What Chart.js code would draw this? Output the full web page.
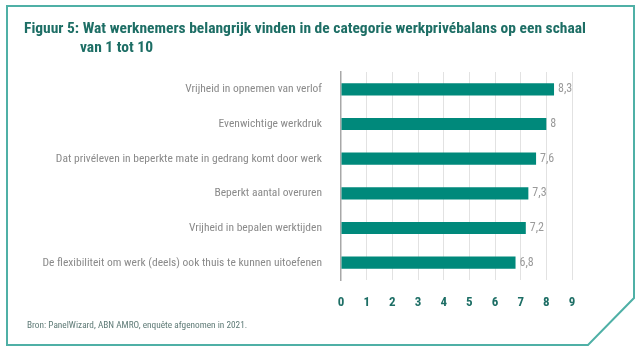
<!DOCTYPE html>
<html>
<head>
<meta charset="utf-8">
<script src="https://cdn.jsdelivr.net/npm/chart.js@4/dist/chart.umd.min.js"></script>
<style>
  html, body { margin:0; padding:0; background:#fff; }
  #wrap { position:relative; width:640px; height:352px; overflow:hidden; }
  canvas { position:absolute; left:0; top:0; }
  #title { position:absolute; left:24px; top:19px; white-space:nowrap;
    font-family:"Roboto Condensed",Roboto,sans-serif;
    font-weight:bold; font-size:15.5px; line-height:19px; color:#1d6e65; }
  #title .l2 { padding-left:56px; }
  #source { position:absolute; left:27px; top:319px; white-space:nowrap;
    font-family:"Roboto Condensed",Roboto,sans-serif;
    font-size:9.3px; color:#5e7a76; }
</style>
</head>
<body>
<div id="wrap">
  <canvas id="c" width="640" height="352"></canvas>
  <div id="title">Figuur 5: Wat werknemers belangrijk vinden in de categorie werkprivébalans op een schaal<br><span class="l2">van 1 tot 10</span></div>
  <div id="source">Bron: PanelWizard, ABN AMRO, enquête afgenomen in 2021.</div>
</div>
<script>
const categories = [
  "Vrijheid in opnemen van verlof",
  "Evenwichtige werkdruk",
  "Dat privéleven in beperkte mate in gedrang komt door werk",
  "Beperkt aantal overuren",
  "Vrijheid in bepalen werktijden",
  "De flexibiliteit om werk (deels) ook thuis te kunnen uitoefenen"
];
const scores = [8.3, 8, 7.6, 7.3, 7.2, 6.8];
const tickValues = [0, 1, 2, 3, 4, 5, 6, 7, 8, 9];

const FONT = '"Roboto Condensed", Roboto, sans-serif';
const TEAL = '#00897b';

const framePlugin = {
  id: 'frame',
  beforeDraw(chart) {
    const ctx = chart.ctx;
    ctx.save();
    ctx.strokeStyle = '#4fb0a6';
    ctx.lineWidth = 2;
    ctx.beginPath();
    ctx.moveTo(7, 6);
    ctx.lineTo(634, 6);
    ctx.lineTo(634, 298);
    ctx.lineTo(588, 345);
    ctx.lineTo(7, 345);
    ctx.closePath();
    ctx.stroke();
    ctx.restore();
  }
};

const valueLabels = {
  id: 'valueLabels',
  afterDatasetsDraw(chart) {
    const ctx = chart.ctx;
    const meta = chart.getDatasetMeta(0);
    ctx.save();
    ctx.font = '12px ' + FONT;
    ctx.fillStyle = '#9a9a9a';
    ctx.textAlign = 'left';
    ctx.textBaseline = 'middle';
    meta.data.forEach((bar, i) => {
      const txt = String(scores[i]).replace('.', ',');
      ctx.fillText(txt, bar.x + 4, bar.y);
    });
    ctx.restore();
  }
};

new Chart(document.getElementById('c'), {
  type: 'bar',
  data: {
    labels: categories,
    datasets: [{
      data: scores,
      backgroundColor: TEAL,
      borderWidth: 0,
      barPercentage: 0.35,
      categoryPercentage: 1.0
    }]
  },
  options: {
    indexAxis: 'y',
    responsive: false,
    animation: false,
    layout: { padding: { left: 0, top: 72, right: 68, bottom: 30 } },
    plugins: { legend: { display: false }, tooltip: { enabled: false } },
    scales: {
      x: {
        min: 0, max: 9,
        afterBuildTicks(scale) { scale.ticks = tickValues.map(v => ({ value: v })); },
        afterFit(scale) { scale.height = 42; },
        grid: {
          color: ctx => ctx.index === 0 ? 'rgba(0,0,0,0)' : '#e2e2e2',
          lineWidth: 1,
          drawTicks: false
        },
        border: { display: false },
        ticks: {
          padding: 15,
          color: '#1d6e65',
          font: { family: FONT, size: 13, weight: 'bold' }
        }
      },
      y: {
        afterFit(scale) { scale.width = 341; },
        grid: { display: false, drawTicks: false },
        border: { display: true, color: '#a8a8a8', width: 1.5 },
        ticks: {
          padding: 19,
          color: '#8a8a8a',
          font: { family: FONT, size: 11.5 }
        }
      }
    }
  },
  plugins: [framePlugin, valueLabels]
});
</script>
</body>
</html>
